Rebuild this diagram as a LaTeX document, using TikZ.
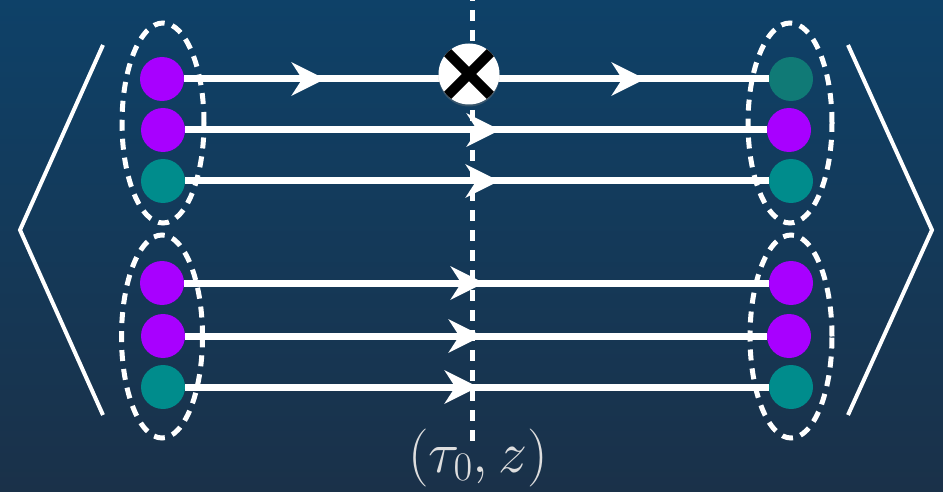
\RequirePackage{fix-cm}
\documentclass[tikz,border=0pt]{standalone}
\usetikzlibrary{arrows.meta,decorations.markings,shapes.geometric,shadows}
\definecolor{bgtop}{RGB}{14,65,104}
\definecolor{bgbot}{RGB}{26,49,73}
\definecolor{purp}{RGB}{168,0,255}
\definecolor{tealc}{RGB}{0,140,140}
\definecolor{tealb}{RGB}{16,122,118}
\definecolor{labc}{RGB}{222,222,222}
\begin{document}
\begin{tikzpicture}[x=1pt,y=-1pt,
  dot/.style={circle,inner sep=0pt,minimum size=44pt},
  pdot/.style={dot,fill=purp},
  tdot/.style={dot,fill=tealc},
  grp/.style={ellipse,draw=white,line width=5pt,dash pattern=on 11pt off 8pt,inner sep=0pt},
  wire/.style={color=white,draw=white,line width=7pt,postaction={decorate}},
  bra/.style={white,line width=4pt},
  vline/.style={white,line width=5pt,dash pattern=on 11pt off 9pt},
  flowtip/.tip={Stealth[length=34pt,width=34pt,inset=11pt,line width=0pt]}]
\useasboundingbox (0,0) rectangle (943,492);
\clip (0,0) rectangle (943,492);
\shade[top color=bgtop,bottom color=bgbot] (0,0) rectangle (943,492);
% vertical dashed line
\coordinate (vt) at (472,-10);
\coordinate (vb) at (472,447);
\draw[vline] (vt) -- (vb);
% brackets
\coordinate (lbt) at (103,45);
\coordinate (lbv) at (20,230);
\coordinate (lbb) at (103,415);
\coordinate (rbt) at (848,45);
\coordinate (rbv) at (932,230);
\coordinate (rbb) at (848,415);
\draw[bra] (lbt) -- (lbv) -- (lbb);
\draw[bra] (rbt) -- (rbv) -- (rbb);
% groups
\node[grp,minimum width=82pt,minimum height=200pt] (gL1) at (163,123) {};
\node[grp,minimum width=81pt,minimum height=203pt] (gL2) at (162,336.5) {};
\node[grp,minimum width=84pt,minimum height=200pt] (gR1) at (790,123) {};
\node[grp,minimum width=82pt,minimum height=203pt] (gR2) at (791,336.5) {};
% dots
\node[pdot] (l1) at (162,79) {};
\node[pdot] (l2) at (163,130) {};
\node[tdot] (l3) at (163,181) {};
\node[pdot] (l4) at (162,283) {};
\node[pdot] (l5) at (163,336) {};
\node[tdot] (l6) at (163,387) {};
\node[dot,fill=tealb] (r1) at (791,79) {};
\node[pdot] (r2) at (789,130) {};
\node[tdot] (r3) at (791,181) {};
\node[pdot] (r4) at (791,283) {};
\node[pdot] (r5) at (789,336) {};
\node[tdot] (r6) at (791,387) {};
% wires
\draw[wire,decoration={markings,mark=at position 141pt with {\arrow{flowtip}},mark=at position 461pt with {\arrow{flowtip}}}] (l1) -- (r1);
\draw[wire,decoration={markings,mark=at position 315pt with {\arrow{flowtip}}}] (l2) -- (r2);
\draw[wire,decoration={markings,mark=at position 314pt with {\arrow{flowtip}}}] (l3) -- (r3);
\draw[wire,decoration={markings,mark=at position 300pt with {\arrow{flowtip}}}] (l4) -- (r4);
\draw[wire,decoration={markings,mark=at position 297pt with {\arrow{flowtip}}}] (l5) -- (r5);
\draw[wire,decoration={markings,mark=at position 293pt with {\arrow{flowtip}}}] (l6) -- (r6);
% measurement vertex
\node[circle,fill=white,minimum size=61pt,inner sep=0pt,
  drop shadow={opacity=0.35,shadow xshift=0pt,shadow yshift=-2pt},
  path picture={\draw[black,line width=10pt]
    ([xshift=-25pt,yshift=-25pt]path picture bounding box.center) -- ([xshift=25pt,yshift=25pt]path picture bounding box.center)
    ([xshift=-25pt,yshift=25pt]path picture bounding box.center) -- ([xshift=25pt,yshift=-25pt]path picture bounding box.center);}] (X) at (469,74) {};
% label
\node[text=labc,anchor=base,font=\fontsize{58}{64}\selectfont,inner sep=0pt] (lab) at (478,472) {$(\tau_0, z)$};
\end{tikzpicture}
\end{document}
